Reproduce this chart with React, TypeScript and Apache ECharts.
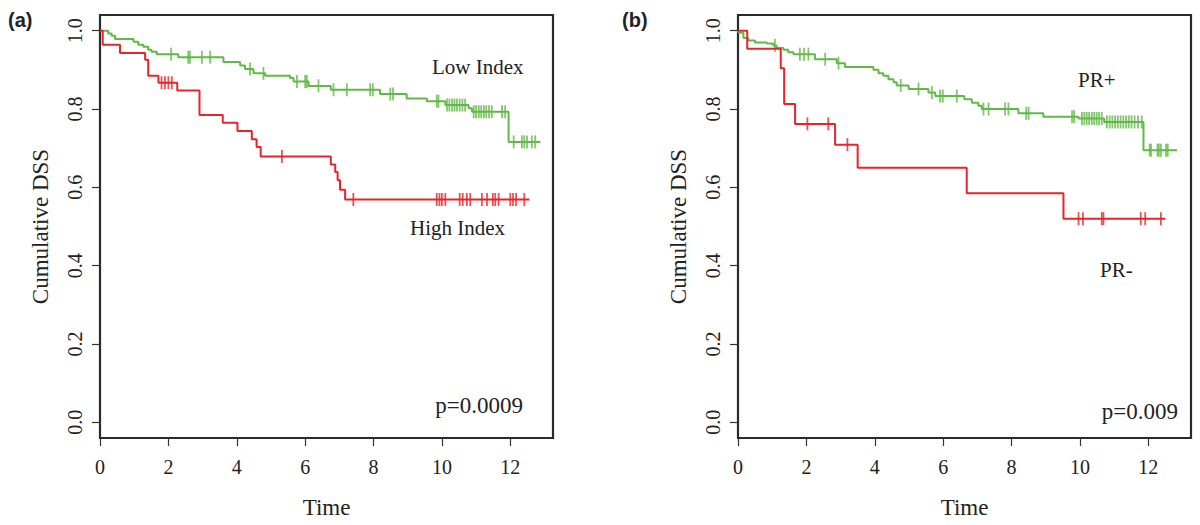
import React, { useEffect, useRef } from "react";
import * as echarts from "echarts";

// Panel (a): Low Index (green) / High Index (red)
const aLowTimes = [0.24, 0.34, 0.44, 0.98, 1.12, 1.27, 1.41, 1.51, 1.66, 2.29, 3.61, 4.10, 4.24, 4.49, 4.83, 5.56, 5.66, 6.10, 6.75, 8.19, 8.97, 9.56, 10.10, 10.78, 10.88, 11.95];
const aLowSurv = [0.993, 0.987, 0.979, 0.972, 0.964, 0.959, 0.951, 0.946, 0.940, 0.932, 0.920, 0.911, 0.902, 0.891, 0.885, 0.879, 0.870, 0.859, 0.849, 0.838, 0.827, 0.820, 0.810, 0.802, 0.793, 0.716];
const aLowCensor = [2.08, 2.58, 2.63, 2.98, 3.22, 4.39, 4.78, 5.76, 6.00, 6.05, 6.39, 6.83, 7.22, 7.90, 7.98, 8.49, 8.57, 9.85, 9.90, 10.15, 10.22, 10.30, 10.37, 10.44, 10.52, 10.60, 10.68, 10.93, 11.00, 11.08, 11.15, 11.23, 11.30, 11.38, 11.46, 11.76, 11.85, 12.10, 12.34, 12.41, 12.49, 12.63, 12.73];
const aLowEnd = 12.88;

const aHighTimes = [0.08, 0.585, 1.32, 1.41, 1.71, 2.26, 2.91, 3.59, 4.02, 4.44, 4.58, 4.70, 6.75, 6.88, 6.95, 7.02, 7.17];
const aHighSurv = [0.964, 0.943, 0.926, 0.885, 0.867, 0.847, 0.785, 0.765, 0.744, 0.723, 0.703, 0.679, 0.658, 0.639, 0.618, 0.594, 0.569];
const aHighCensor = [1.80, 1.90, 2.00, 2.10, 5.32, 7.41, 9.85, 9.93, 10.00, 10.10, 10.52, 10.61, 10.73, 10.83, 11.17, 11.32, 11.49, 11.56, 11.66, 12.00, 12.08, 12.17, 12.41];
const aHighEnd = 12.56;

// Panel (b): PR+ (green) / PR- (red)
const bPosTimes = [0.02, 0.16, 0.30, 0.50, 0.84, 1.03, 1.13, 1.33, 1.47, 1.62, 2.25, 2.89, 3.13, 3.96, 4.11, 4.25, 4.40, 4.55, 4.64, 4.99, 5.57, 5.77, 6.62, 6.84, 7.03, 7.13, 8.20, 8.93, 9.96, 10.71, 11.86];
const bPosSurv = [0.995, 0.981, 0.975, 0.970, 0.967, 0.962, 0.956, 0.951, 0.945, 0.940, 0.927, 0.917, 0.907, 0.900, 0.891, 0.885, 0.876, 0.868, 0.860, 0.851, 0.842, 0.833, 0.825, 0.816, 0.808, 0.800, 0.789, 0.780, 0.776, 0.767, 0.695];
const bPosCensor = [1.08, 1.81, 1.93, 2.06, 2.55, 2.94, 4.76, 5.28, 5.67, 5.91, 5.99, 6.40, 7.18, 7.33, 7.81, 7.91, 8.43, 8.50, 9.77, 9.83, 10.06, 10.13, 10.20, 10.27, 10.35, 10.42, 10.49, 10.56, 10.64, 10.79, 10.87, 10.95, 11.03, 11.11, 11.19, 11.27, 11.35, 11.43, 11.51, 11.60, 11.70, 11.81, 12.04, 12.08, 12.27, 12.31, 12.37, 12.52, 12.57];
const bPosEnd = 12.84;

const bNegTimes = [0.27, 1.25, 1.35, 1.67, 2.84, 3.50, 6.69, 9.52];
const bNegSurv = [0.954, 0.904, 0.813, 0.762, 0.709, 0.650, 0.585, 0.520];
const bNegCensor = [2.03, 2.64, 3.20, 9.96, 10.09, 10.64, 10.69, 11.78, 11.91, 12.37];
const bNegEnd = 12.5;

const xTicks = [0, 2, 4, 6, 8, 10, 12];
const yTicks = [0, 0.2, 0.4, 0.6, 0.8, 1.0];

const GREEN = "#62b846";
const RED = "#e4252b";
const SERIF = "'Liberation Serif', 'DejaVu Serif', serif";

function stepData(times: number[], surv: number[], end: number) {
  const d: number[][] = [[0, 1]];
  times.forEach((t, i) => d.push([t, surv[i]]));
  d.push([end, surv[surv.length - 1]]);
  return d;
}

function survAt(times: number[], surv: number[], t: number) {
  let s = 1;
  for (let i = 0; i < times.length; i++) if (times[i] <= t) s = surv[i];
  return s;
}

function censorData(times: number[], surv: number[], cens: number[]) {
  return cens.map((c) => [c, survAt(times, surv, c)]);
}

export default function App() {
  const ref = useRef<HTMLDivElement>(null);
  useEffect(() => {
    if (!ref.current) return;
    const chart = echarts.init(ref.current, null, { renderer: "svg" });
    const axisText = { fontFamily: SERIF, fontSize: 20, color: "#222" };
    const mkX = (gi: number) => ({
      type: "value",
      gridIndex: gi,
      position: "bottom",
      min: 0,
      max: 13.25,
      name: "Time",
      nameLocation: "middle",
      nameGap: 58,
      nameTextStyle: { fontFamily: SERIF, fontSize: 23, color: "#222" },
      axisLine: { show: false, onZero: false },
      splitLine: { show: false },
      axisTick: { show: true, length: 8, customValues: xTicks, lineStyle: { color: "#333", width: 1.2 } },
      axisLabel: { ...axisText, margin: 14, padding: [5, 0, 0, 0], customValues: xTicks, formatter: (v: number) => String(v) },
    });
    const mkY = (gi: number) => ({
      type: "value",
      gridIndex: gi,
      position: "left",
      min: -0.04,
      max: 1.04,
      name: "Cumulative DSS",
      nameLocation: "middle",
      nameGap: 48,
      nameTextStyle: { fontFamily: SERIF, fontSize: 23, color: "#222" },
      axisLine: { show: false, onZero: false },
      splitLine: { show: false },
      axisTick: { show: true, length: 8, customValues: yTicks, lineStyle: { color: "#333", width: 1.2 } },
      axisLabel: { ...axisText, rotate: 90, margin: 15, customValues: yTicks, formatter: (v: number) => v.toFixed(1) },
    });
    const line = (gi: number, data: number[][], color: string) => ({
      type: "line",
      xAxisIndex: gi,
      yAxisIndex: gi,
      step: "end",
      symbol: "none",
      data,
      lineStyle: { color, width: 2 },
      silent: true,
    });
    const marks = (gi: number, data: number[][], color: string) => ({
      type: "scatter",
      xAxisIndex: gi,
      yAxisIndex: gi,
      symbol: "rect",
      symbolSize: [1.8, 13],
      data,
      itemStyle: { color },
      silent: true,
    });
    const txt = (x: number, y: number, text: string, size: number, align = "left", font = SERIF, weight = "normal") => ({
      type: "text",
      x,
      y,
      style: {
        text,
        fill: "#222",
        font: `${weight} ${size}px ${font}`,
        textAlign: align,
        textVerticalAlign: "middle",
      },
    });
    chart.setOption({
      animation: false,
      backgroundColor: "#fff",
      grid: [
        { left: 100, top: 15, width: 453, height: 423, show: true, borderColor: "#2a2a2a", borderWidth: 2.2, backgroundColor: "transparent" },
        { left: 738, top: 15, width: 453, height: 423, show: true, borderColor: "#2a2a2a", borderWidth: 2.2, backgroundColor: "transparent" },
      ],
      xAxis: [mkX(0), mkX(1)],
      yAxis: [mkY(0), mkY(1)],
      series: [
        line(0, stepData(aLowTimes, aLowSurv, aLowEnd), GREEN),
        marks(0, censorData(aLowTimes, aLowSurv, aLowCensor), GREEN),
        line(0, stepData(aHighTimes, aHighSurv, aHighEnd), RED),
        marks(0, censorData(aHighTimes, aHighSurv, aHighCensor), RED),
        line(1, stepData(bPosTimes, bPosSurv, bPosEnd), GREEN),
        marks(1, censorData(bPosTimes, bPosSurv, bPosCensor), GREEN),
        line(1, stepData(bNegTimes, bNegSurv, bNegEnd), RED),
        marks(1, censorData(bNegTimes, bNegSurv, bNegCensor), RED),
      ],
      graphic: [
        txt(8, 20, "(a)", 20, "left", "'Liberation Sans', Arial, sans-serif", "bold"),
        txt(622, 20, "(b)", 20, "left", "'Liberation Sans', Arial, sans-serif", "bold"),
        txt(432, 67, "Low Index", 21),
        txt(410, 228, "High Index", 21),
        txt(523, 405, "p=0.0009", 23, "right"),
        txt(1078, 80, "PR+", 21),
        txt(1100, 270, "PR-", 21),
        txt(1178, 411, "p=0.009", 23, "right"),
      ],
    });
    return () => chart.dispose();
  }, []);
  return (
    <div
      ref={ref}
      style={{ position: "fixed", left: 0, top: 0, width: 1200, height: 525, background: "#fff" }}
    />
  );
}
